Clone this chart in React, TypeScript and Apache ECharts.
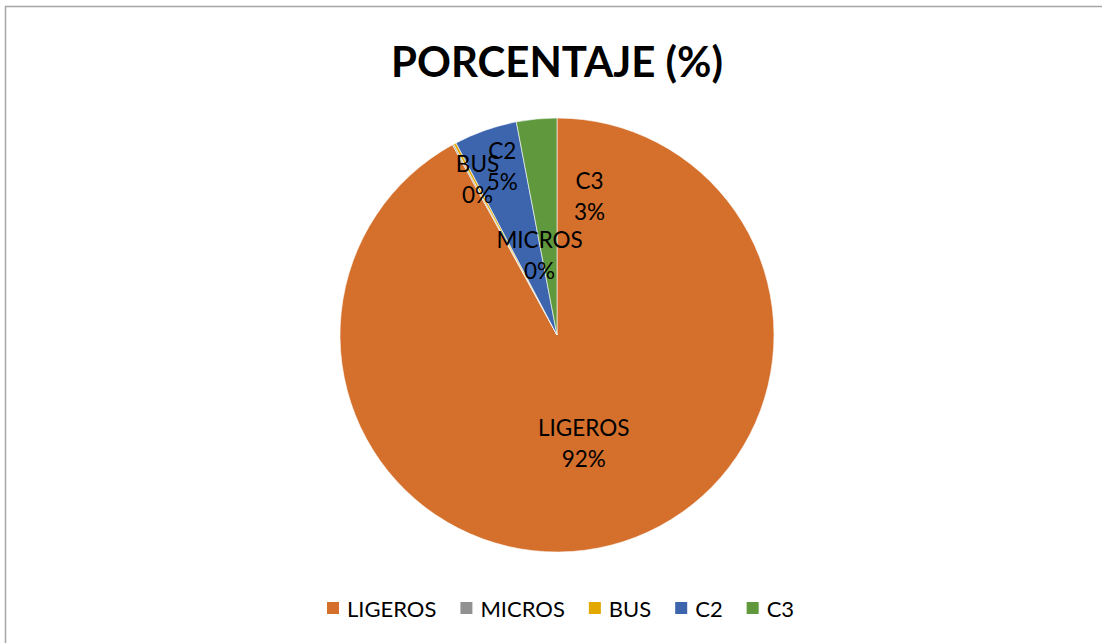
import React, { useEffect, useRef } from "react";
import * as echarts from "echarts";

const categories = ["LIGEROS", "MICROS", "BUS", "C2", "C3"];
const values = [92.0, 0.1, 0.2, 4.7, 3.0];
const colors = ["#D46F2C", "#919191", "#E2A800", "#3D65AE", "#5F983D"];
const labelOffsets: [number, number][] = [
  [-1, 0],
  [36, 18],
  [-27, -58],
  [-18, -64],
  [43, -28],
];
const titleText = "PORCENTAJE (%)";

const FONT = "Lato, 'Liberation Sans', sans-serif";

export default function App() {
  const ref = useRef<HTMLDivElement>(null);
  useEffect(() => {
    document.body.style.margin = "0";
    const chart = echarts.init(ref.current!, undefined, { renderer: "svg" });
    chart.setOption({
      animation: false,
      backgroundColor: "#ffffff",
      graphic: [
        {
          type: "rect",
          shape: { x: 5.5, y: 6.5, width: 1200, height: 800 },
          style: { fill: "none", stroke: "#A6A6A6", lineWidth: 1.5 },
          silent: true,
        },
        {
          type: "text",
          x: 557,
          y: 61,
          style: {
            text: titleText,
            fontFamily: FONT,
            fontWeight: "bold",
            fontSize: 42,
            fill: "#000",
            align: "center",
            verticalAlign: "middle",
          },
        },
      ],
      legend: {
        data: categories,
        left: 320,
        top: 592,
        itemWidth: 14,
        itemHeight: 14,
        itemGap: 22,
        icon: "rect",
        textStyle: { fontFamily: FONT, fontSize: 22, color: "#000", padding: [0, 0, 0, 2] },
      },
      series: [
        {
          type: "pie",
          center: [557, 335],
          radius: 217,
          startAngle: 90,
          clockwise: true,
          percentPrecision: 0,
          avoidLabelOverlap: false,
          minShowLabelAngle: 0,
          labelLayout: { hideOverlap: false },
          itemStyle: { borderColor: "#ffffff", borderWidth: 0.6 },
          label: {
            show: true,
            position: "inside",
            formatter: "{b}\n{d}%",
            fontFamily: FONT,
            fontSize: 22.5,
            lineHeight: 31,
            color: "#000",
          },
          labelLine: { show: false },
          data: categories.map((name, i) => ({
            name,
            value: values[i],
            itemStyle: { color: colors[i] },
            label: { offset: labelOffsets[i] },
          })),
        },
      ],
    });
    return () => chart.dispose();
  }, []);
  return (
    <div
      ref={ref}
      style={{ position: "fixed", left: 0, top: 0, width: 1102, height: 643 }}
    />
  );
}
